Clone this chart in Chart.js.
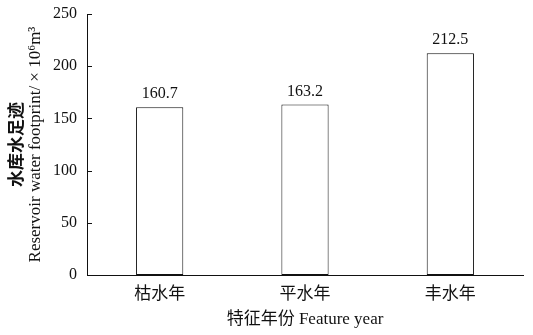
<!DOCTYPE html>
<html>
<head>
<meta charset="utf-8">
<script src="https://cdn.jsdelivr.net/npm/chart.js@4/dist/chart.umd.min.js"></script>
<style>
  html, body { margin: 0; padding: 0; background: #fff; }
  #wrap { width: 533px; height: 335px; }
</style>
</head>
<body>
<div id="wrap"><canvas id="c" width="533" height="335"></canvas></div>
<script>
// Reservoir water footprint by characteristic hydrological year
const categories = ['枯水年', '平水年', '丰水年'];
const footprint = [160.7, 163.2, 212.5];
const yTicks = [0, 50, 100, 150, 200, 250];

const yTitleCn = '水库水足迹';
const yTitleEn = 'Reservoir water footprint/ × 10⁶m³';
const xTitle = '特征年份 Feature year';

const SERIF = '"Liberation Serif", "Times New Roman", "Noto Sans CJK SC", serif';
const INK = '#111';

// Inward tick marks on the value axis, bar value labels, two-line y title
const decorations = {
  id: 'decorations',
  afterDatasetsDraw(chart) {
    const ctx = chart.ctx;
    const y = chart.scales.y;
    const x0 = chart.chartArea.left;
    ctx.save();
    ctx.strokeStyle = INK;
    ctx.lineWidth = 1;
    yTicks.forEach(v => {
      const py = Math.round(y.getPixelForValue(v)) + 0.5;
      ctx.beginPath();
      ctx.moveTo(x0, py);
      ctx.lineTo(x0 + 5, py);
      ctx.stroke();
    });

    const meta = chart.getDatasetMeta(0);
    ctx.fillStyle = INK;
    ctx.font = '16px ' + SERIF;
    ctx.textAlign = 'center';
    ctx.textBaseline = 'bottom';
    meta.data.forEach((bar, i) => {
      ctx.fillText(footprint[i].toFixed(1), bar.x, bar.y - 5);
    });

    const cy = (chart.chartArea.top + chart.chartArea.bottom) / 2;
    ctx.translate(0, cy);
    ctx.rotate(-Math.PI / 2);
    ctx.textAlign = 'center';
    ctx.textBaseline = 'middle';
    ctx.font = 'bold 17px "Noto Sans CJK SC", sans-serif';
    ctx.fillText(yTitleCn, 0, 16);
    ctx.font = '17px ' + SERIF;
    ctx.fillText(yTitleEn, 0, 36);
    ctx.restore();
  }
};

new Chart(document.getElementById('c'), {
  type: 'bar',
  data: {
    labels: categories,
    datasets: [{
      data: footprint,
      backgroundColor: '#ffffff',
      borderColor: INK,
      borderWidth: 1,
      borderSkipped: false,
      categoryPercentage: 0.65,
      barPercentage: 0.5
    }]
  },
  options: {
    responsive: false,
    animation: false,
    devicePixelRatio: 1,
    layout: { padding: { top: 14, right: 10, left: 0, bottom: 0 } },
    plugins: {
      legend: { display: false },
      tooltip: { enabled: false }
    },
    scales: {
      x: {
        grid: { display: false, drawTicks: false },
        border: { display: true, color: INK, width: 1 },
        ticks: { color: INK, padding: 9, font: { family: SERIF, size: 17 } },
        title: {
          display: true,
          text: xTitle,
          color: INK,
          font: { family: SERIF, size: 17 },
          padding: { top: 2, bottom: 5 }
        },
        afterFit(scale) {
          scale.height = 60;
          scale.paddingLeft = 0;
          scale.paddingRight = 0;
        }
      },
      y: {
        min: 0,
        max: 250,
        afterBuildTicks(scale) { scale.ticks = yTicks.map(v => ({ value: v })); },
        grid: { display: false, drawTicks: false },
        border: { display: true, color: INK, width: 1 },
        ticks: { color: INK, padding: 10, font: { family: SERIF, size: 16 } },
        afterFit(scale) {
          scale.width = 87;
          scale.paddingTop = 0;
          scale.paddingBottom = 0;
        }
      }
    }
  },
  plugins: [decorations]
});
</script>
</body>
</html>
